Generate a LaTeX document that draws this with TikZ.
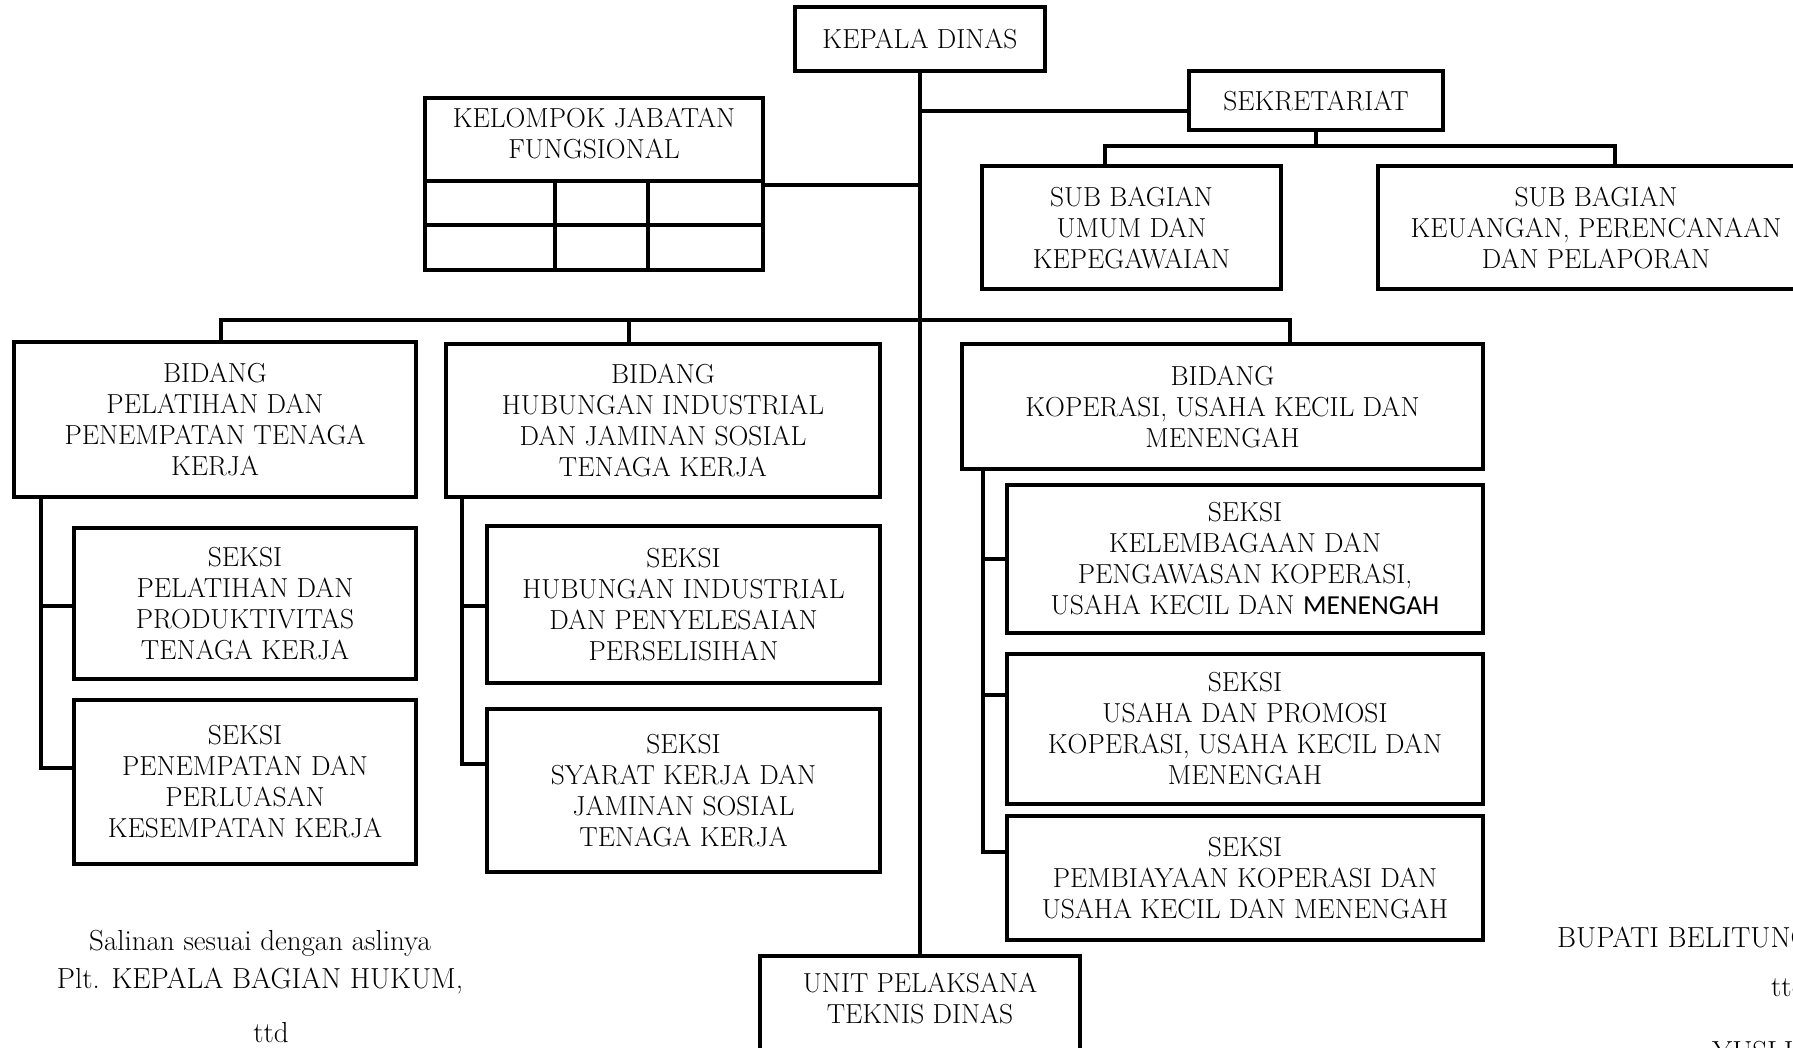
\documentclass[tikz,border=0pt]{standalone}
\usepackage{fontspec}
\newfontfamily\calib{Carlito}
\begin{document}
\begin{tikzpicture}[x=1pt,y=-1pt,
 bx/.style={draw, line width=4pt, rectangle, inner sep=0pt, align=center, font=\fontsize{27.5}{31}\selectfont},
 txt/.style={inner sep=0pt, align=center, font=\fontsize{27.5}{31}\selectfont},
 bxline/.style={line width=4pt},
 ln/.style={line width=3.2pt},
 lbl/.style={inner sep=0pt, font=\fontsize{29}{35}\selectfont}]
\useasboundingbox (0,0) rectangle (1793,1047);
\clip (0,0) rectangle (1793,1047);
% top level
\node[bx, minimum width=250, minimum height=64] (kd) at (920,39) {KEPALA DINAS};
\node[bx, minimum width=254, minimum height=59] (sek) at (1316,100.5) {SEKRETARIAT};
\node[bx, minimum width=299, minimum height=123] (sub1) at (1131.5,227.5) {SUB BAGIAN\\UMUM DAN\\KEPEGAWAIAN};
\node[bx, minimum width=436, minimum height=123] (sub2) at (1596,227.5) {SUB BAGIAN\\KEUANGAN, PERENCANAAN\\DAN PELAPORAN};
% kelompok jabatan fungsional
\node[bx, minimum width=338, minimum height=172] (kjf) at (594,184) {};
\node[txt] (kjft) at (594,133) {KELOMPOK JABATAN\\FUNGSIONAL};
\coordinate (h1) at (0,181);
\coordinate (h2) at (0,225);
\coordinate (v1) at (555,0);
\coordinate (v2) at (648,0);
\draw[bxline] (kjf.west |- h1) -- (kjf.east |- h1);
\draw[bxline] (kjf.west |- h2) -- (kjf.east |- h2);
\draw[bxline] (v1 |- h1) -- (v1 |- kjf.south);
\draw[bxline] (v2 |- h1) -- (v2 |- kjf.south);
% bidang
\node[bx, minimum width=402, minimum height=155] (b1) at (215,419.5) {BIDANG\\PELATIHAN DAN\\PENEMPATAN TENAGA\\KERJA};
\node[bx, minimum width=434, minimum height=153] (b2) at (663,420.5) {BIDANG\\HUBUNGAN INDUSTRIAL\\DAN JAMINAN SOSIAL\\TENAGA KERJA};
\node[bx, minimum width=521, minimum height=125] (b3) at (1222.5,406.5) {BIDANG\\KOPERASI, USAHA KECIL DAN\\MENENGAH};
% seksi
\node[bx, minimum width=342, minimum height=151] (s1a) at (245,603.5) {SEKSI\\PELATIHAN DAN\\PRODUKTIVITAS\\TENAGA KERJA};
\node[bx, minimum width=342, minimum height=164] (s1b) at (245,782) {SEKSI\\PENEMPATAN DAN\\PERLUASAN\\KESEMPATAN KERJA};
\node[bx, minimum width=393, minimum height=157] (s2a) at (683.5,604.5) {SEKSI\\HUBUNGAN INDUSTRIAL\\DAN PENYELESAIAN\\PERSELISIHAN};
\node[bx, minimum width=393, minimum height=163] (s2b) at (683.5,790.5) {SEKSI\\SYARAT KERJA DAN\\JAMINAN SOSIAL\\TENAGA KERJA};
\node[bx, minimum width=476, minimum height=148] (s3a) at (1245,559) {SEKSI\\KELEMBAGAAN DAN\\PENGAWASAN KOPERASI,\\USAHA KECIL DAN {\calib MENENGAH}};
\node[bx, minimum width=476, minimum height=150] (s3b) at (1245,729) {SEKSI\\USAHA DAN PROMOSI\\KOPERASI, USAHA KECIL DAN\\MENENGAH};
\node[bx, minimum width=476, minimum height=124] (s3c) at (1245,878) {SEKSI\\PEMBIAYAAN KOPERASI DAN\\USAHA KECIL DAN MENENGAH};
% UPT
\node[bx, minimum width=320, minimum height=124] (upt) at (920,1018) {};
\node[txt] (uptt) at (920,998) {UNIT PELAKSANA\\TEKNIS DINAS};
% connectors
\draw[ln] (kd.south) -- (upt.north);
\coordinate (j1) at (920,111);
\draw[ln] (j1) -- (j1 -| sek.west);
\coordinate (sbl) at (1105,146);
\coordinate (sbr) at (1615,146);
\draw[ln] (sek.south) -- (sek.south |- sbl);
\draw[ln] (sbl |- sub1.north) -- (sbl) -- (sbr) -- (sbr |- sub2.north);
\coordinate (j2) at (920,185);
\draw[ln] (j2 -| kjf.east) -- (j2);
\coordinate (bl) at (221,320);
\coordinate (bm) at (629,320);
\coordinate (br) at (1290,320);
\draw[ln] (bl |- b1.north) -- (bl) -- (br) -- (br |- b3.north);
\draw[ln] (bm) -- (bm |- b2.north);
% left spine
\coordinate (l1) at (41,606);
\coordinate (l2) at (41,768);
\draw[ln] (l1 |- b1.south) -- (l2) -- (l2 -| s1b.west);
\draw[ln] (l1) -- (l1 -| s1a.west);
% middle spine
\coordinate (m1) at (462,606);
\coordinate (m2) at (462,764);
\draw[ln] (m1 |- b2.south) -- (m2) -- (m2 -| s2b.west);
\draw[ln] (m1) -- (m1 -| s2a.west);
% right spine
\coordinate (r1) at (983,559);
\coordinate (r2) at (983,695);
\coordinate (r3) at (983,852);
\draw[ln] (r1 |- b3.south) -- (r3) -- (r3 -| s3c.west);
\draw[ln] (r1) -- (r1 -| s3a.west);
\draw[ln] (r2) -- (r2 -| s3b.west);
% signature texts
\node[lbl] (sal) at (260,943) {Salinan sesuai dengan aslinya};
\node[lbl] (plt) at (260,981) {Plt. KEPALA BAGIAN HUKUM,};
\node[lbl] (ttda) at (271,1033) {ttd};
\node[lbl, anchor=west] (bup) at (1557,940) {BUPATI BELITUNG TIMUR,};
\node[lbl, anchor=west] (ttdb) at (1771,987) {ttd};
\node[lbl, anchor=west] (yus) at (1712,1051) {YUSLIH IHZA};
\end{tikzpicture}
\end{document}
